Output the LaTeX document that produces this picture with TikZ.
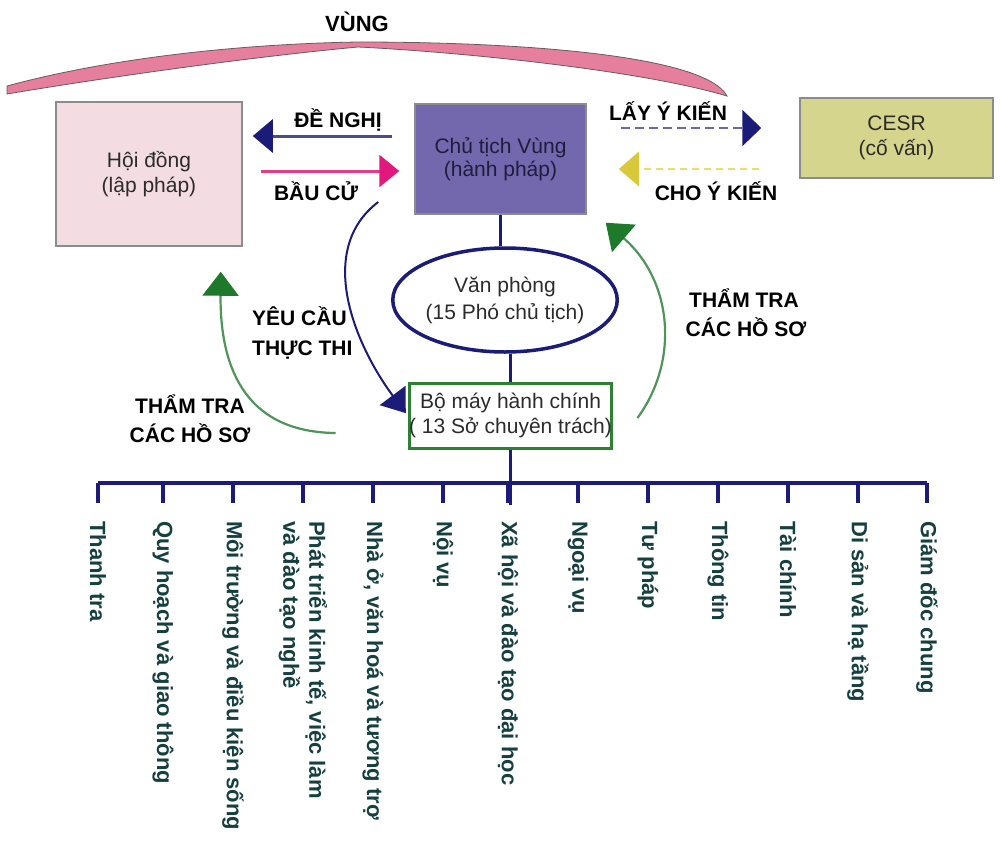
\documentclass[tikz,border=0pt]{standalone}
\usepackage{fontspec}
\setmainfont{Liberation Sans}
\usetikzlibrary{arrows.meta,shapes.geometric}
\definecolor{hoifill}{HTML}{F3DDE3}
\definecolor{boxgray}{HTML}{8C8C8C}
\definecolor{chairfill}{HTML}{7367AE}
\definecolor{cesrfill}{HTML}{D5D58D}
\definecolor{bmgreen}{HTML}{2F7F35}
\definecolor{navy}{HTML}{1B1B78}
\definecolor{dnline}{HTML}{4B4B8E}
\definecolor{pinkline}{HTML}{E23C8C}
\definecolor{pinkhead}{HTML}{E3187C}
\definecolor{lyline}{HTML}{6A6AA8}
\definecolor{cyline}{HTML}{E9DE6A}
\definecolor{cyhead}{HTML}{D9C93A}
\definecolor{greenline}{HTML}{4F9459}
\definecolor{greenhead}{HTML}{1E7A2A}
\definecolor{arcpink}{HTML}{E57F9D}
\definecolor{arcedge}{HTML}{6A5A60}
\definecolor{deptcol}{HTML}{153F40}
\definecolor{txtdark}{HTML}{2B2B2B}
\definecolor{chairtxt}{HTML}{1E1E3C}
\newcommand\regtxt{\fontsize{21}{25}\selectfont}
\newcommand\boldlbl{\bfseries\fontsize{21}{25}\selectfont}
\newcommand\deptfont{\bfseries\fontsize{22}{26}\selectfont}
\begin{document}
\begin{tikzpicture}[x=1pt,y=-1pt,
  box/.style={draw=boxgray, line width=1.5pt, inner sep=0pt, align=center, font=\regtxt, text=txtdark},
  lbl/.style={font=\boldlbl, text=black, inner sep=0pt, anchor=base},
  deptlbl/.style={rotate=-90, anchor=west, align=left, inner sep=0pt, font=\deptfont, text=deptcol},
  navyline/.style={draw=navy, line width=3.5pt},
  bus/.style={draw=navy, line width=3.5pt},
  greenarrow/.style={draw=greenline, line width=2.2pt, -{Triangle[length=24pt,width=36pt,color=greenhead]}}
]
\useasboundingbox (0,0) rectangle (1003,841);
\fill[white] (0,0) rectangle (1003,841);

% pink arc
\filldraw[fill=arcpink, draw=arcedge, line width=0.8pt]
  (7,86) .. controls (110,58) and (240,44) .. (358,42)
  .. controls (520,42) and (705,55) .. (727,96)
  .. controls (640,70) and (460,52) .. (358,47)
  .. controls (240,58) and (90,80) .. (7,94) -- cycle;
\node[lbl, font=\bfseries\fontsize{22}{26}\selectfont] (vung) at (357,31) {VÙNG};

% boxes
\node[box, fill=hoifill, minimum width=186pt, minimum height=144pt] (hoi) at (149,174) {Hội đồng\\(lập pháp)};
\node[box, fill=chairfill, text=chairtxt, minimum width=171pt, minimum height=110pt, font=\fontsize{21}{23}\selectfont] (chair) at (500.5,159) {Chủ tịch Vùng\\(hành pháp)};
\node[box, fill=cesrfill, minimum width=193pt, minimum height=80pt] (cesr) at (896.5,138) {CESR\\(cố vấn)};
\node[ellipse, draw=navy, line width=3.5pt, fill=white, minimum width=214pt, minimum height=104pt, inner sep=0pt, align=center, font=\fontsize{21}{27}\selectfont, text=txtdark] (vp) at (505,300) {Văn phòng\\(15 Phó chủ tịch)};
\node[box, draw=bmgreen, line width=3pt, fill=white, minimum width=195pt, minimum height=65pt] (bm) at (510.5,415.5) {Bộ máy hành chính\\( 13 Sở chuyên trách)};

% vertical connectors
\draw[navyline] (chair.south) -- (chair.south |- vp.north);
\draw[navyline] (bm.north) -- (bm.north |- vp.south);
\coordinate (busL) at (98,483);
\coordinate (busR) at (927,483);
\draw[bus] (bm.south) -- ++(0,55);
\draw[bus] (busL) -- (busR);

% horizontal arrows
\draw[draw=dnline, line width=3pt, -{Triangle[length=20pt,width=33pt,color=navy]}, shorten <=22pt, shorten >=10pt]
  (chair.west |- 0,136) -- (hoi.east |- 0,136);
\node[lbl] (denghi) at (338,127) {ĐỀ NGHỊ};
\draw[draw=pinkline, line width=3pt, -{Triangle[length=20pt,width=32pt,color=pinkhead]}, shorten <=18pt, shorten >=15pt]
  (hoi.east |- 0,171) -- (chair.west |- 0,171);
\node[lbl] (baucu) at (316,200) {BẦU CỬ};
\draw[draw=lyline, line width=2.5pt, dash pattern=on 9pt off 5pt, -{Triangle[length=19pt,width=36pt,color=navy]}, shorten <=34pt, shorten >=38pt]
  (chair.east |- 0,128) -- (cesr.west |- 0,128);
\node[lbl] (layykien) at (668,120) {LẤY Ý KIẾN};
\draw[draw=cyline, line width=2.5pt, dash pattern=on 7pt off 5pt, -{Triangle[length=20pt,width=34pt,color=cyhead]}, shorten <=40pt, shorten >=32pt]
  (cesr.west |- 0,169) -- (chair.east |- 0,169);
\node[lbl] (choykien) at (716,200) {CHO Ý KIẾN};

% curved navy arrow
\draw[draw=navy, line width=2pt, -{Triangle[length=22pt,width=32pt,color=navy]}, shorten >=3pt]
  ([shift={(-36,43)}]chair.west) .. controls (315,250) and (355,345) .. (bm.west);
\node[lbl, anchor=base west] (yeucau) at (252,325) {YÊU CẦU};
\node[lbl, anchor=base west] (thucthi) at (252,355) {THỰC THI};

% green arrows
\draw[greenarrow] ([shift={(-72,17.5)}]bm.west) .. controls (240,432) and (220,360) .. ([shift={(-22,25)}]hoi.south east);
\node[lbl] (ttL1) at (190,413) {THẨM TRA};
\node[lbl] (ttL2) at (190,442) {CÁC HỒ SƠ};
\draw[greenarrow] ([shift={(24,2.5)}]bm.east) .. controls (680,360) and (672,280) .. ([shift={(19,8)}]chair.south east);
\node[lbl] (ttR1) at (744,307) {THẨM TRA};
\node[lbl] (ttR2) at (746,336) {CÁC HỒ SƠ};

% departments
\foreach \i/\x/\t in {1/98/{Thanh tra},2/163/{Quy hoạch và giao thông},3/233/{Môi trường và điều kiện sống},4/303/{Phát triển kinh tế, việc làm\\và đào tạo nghề},5/373/{Nhà ở, văn hoá và tương trợ},6/443/{Nội vụ},7/508/{Xã hội và đào tạo đại học},8/578/{Ngoại vụ},9/648/{Tư pháp},10/718/{Thông tin},11/788/{Tài chính},12/858/{Di sản và hạ tầng},13/927/{Giám đốc chung}}{
  \node[deptlbl] (d\i) at (\x,521) {\t};
  \draw[bus] (d\i.west |- busL) -- ++(0,20);
}
\end{tikzpicture}
\end{document}
